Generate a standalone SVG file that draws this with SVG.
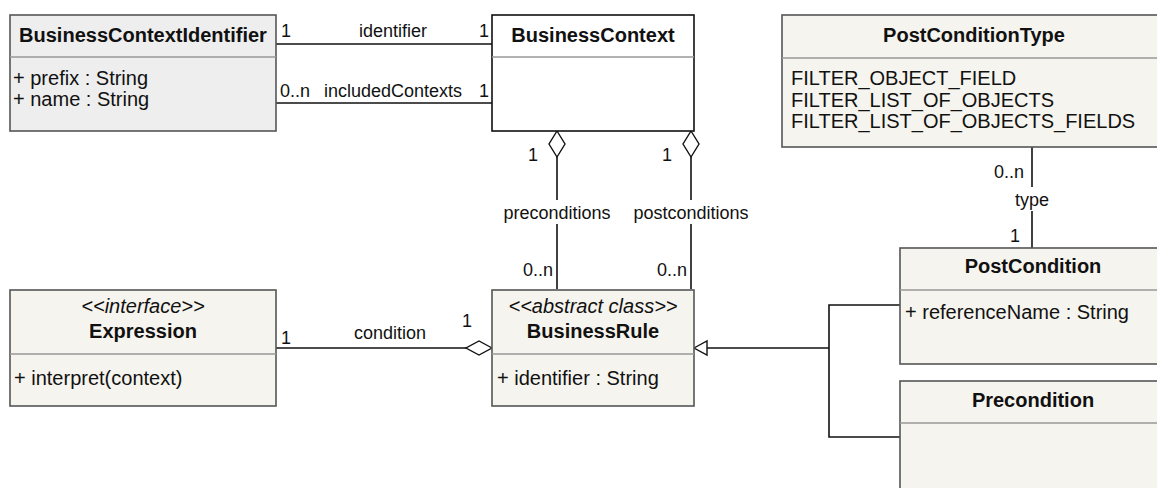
<svg xmlns="http://www.w3.org/2000/svg" width="1157" height="488" viewBox="0 0 1157 488">
<style>
text{font-family:"Liberation Sans",Arial,sans-serif;font-size:20px;fill:#111}
.l{font-size:18px}
.b{font-weight:bold}
.i{font-style:italic}
.m{text-anchor:middle}
.e{text-anchor:end}
.box{fill:#f6f4ee;stroke:#555;stroke-width:1.6}
.gray{fill:#eeeeee;stroke:#555;stroke-width:1.6}
.white{fill:#ffffff;stroke:#111;stroke-width:1.6}
.sep{stroke:#999;stroke-width:1.6;fill:none}
.ln{stroke:#111;stroke-width:1.6;fill:none}
.hol{stroke:#111;stroke-width:1.4;fill:#fff}
</style>
<g id="connectors">
<line class="ln" x1="276" y1="44" x2="492" y2="44"/>
<text class="l" x="281" y="37">1</text><text class="l m" x="393" y="37">identifier</text><text class="l" x="479" y="37">1</text>
<line class="ln" x1="276" y1="103" x2="492" y2="103"/>
<text class="l" x="280" y="97">0..n</text><text class="l m" x="393" y="97">includedContexts</text><text class="l" x="479" y="97">1</text>
<line class="ln" x1="557" y1="157" x2="557" y2="289"/>
<polygon class="hol" points="557,131 565,144 557,157 549,144"/>
<rect x="505" y="200" width="104" height="24" fill="#fff"/>
<text class="l m" x="557" y="219">preconditions</text>
<text class="l" x="528" y="161">1</text><text class="l e" x="553" y="276">0..n</text>
<line class="ln" x1="691" y1="157" x2="691" y2="289"/>
<polygon class="hol" points="691,131 699,144 691,157 683,144"/>
<rect x="635" y="200" width="112" height="24" fill="#fff"/>
<text class="l m" x="691" y="219">postconditions</text>
<text class="l" x="662" y="161">1</text><text class="l e" x="687" y="276">0..n</text>
<line class="ln" x1="276" y1="348" x2="466" y2="348"/>
<polygon class="hol" points="492,348 479,341 466,348 479,355"/>
<text class="l" x="281" y="344">1</text><text class="l m" x="390" y="339">condition</text><text class="l" x="462" y="327">1</text>
<line class="ln" x1="1032" y1="147" x2="1032" y2="249"/>
<rect x="1012" y="187" width="40" height="24" fill="#fff"/>
<text class="l m" x="1032" y="206">type</text>
<text class="l e" x="1024" y="178">0..n</text><text class="l e" x="1020" y="242">1</text>
<polyline class="ln" points="707,348 829,348"/>
<polyline class="ln" points="900,305 829,305 829,437 900,437"/>
<polygon class="hol" points="694,348 707,341 707,355"/>
</g>
<g id="BusinessContextIdentifier">
<rect class="gray" x="10" y="15" width="266" height="116"/>
<line class="sep" x1="10" y1="57" x2="276" y2="57"/>
<text class="b m" x="143" y="42">BusinessContextIdentifier</text>
<text x="13" y="85">+ prefix : String</text>
<text x="13" y="106">+ name : String</text>
</g>
<g id="BusinessContext">
<rect class="white" x="492" y="15" width="202" height="116"/>
<line class="sep" x1="492" y1="57" x2="694" y2="57"/>
<text class="b m" x="593" y="42">BusinessContext</text>
</g>
<g id="PostConditionType">
<rect class="box" x="782" y="15" width="390" height="132"/>
<line class="sep" x1="782" y1="58" x2="1172" y2="58"/>
<text class="b m" x="974" y="42">PostConditionType</text>
<text x="791" y="85">FILTER_OBJECT_FIELD</text>
<text x="791" y="106.5">FILTER_LIST_OF_OBJECTS</text>
<text x="791" y="128">FILTER_LIST_OF_OBJECTS_FIELDS</text>
</g>
<g id="Expression">
<rect class="box" x="10" y="290" width="266" height="116"/>
<line class="sep" x1="10" y1="354" x2="276" y2="354"/>
<text class="i m" x="143" y="313">&lt;&lt;interface&gt;&gt;</text>
<text class="b m" x="143" y="338">Expression</text>
<text x="14" y="385">+ interpret(context)</text>
</g>
<g id="BusinessRule">
<rect class="box" x="492" y="290" width="202" height="116"/>
<line class="sep" x1="492" y1="354" x2="694" y2="354"/>
<text class="i m" x="593" y="313">&lt;&lt;abstract class&gt;&gt;</text>
<text class="b m" x="593" y="338">BusinessRule</text>
<text x="497" y="385">+ identifier : String</text>
</g>
<g id="PostCondition">
<rect class="box" x="900" y="248" width="272" height="116"/>
<line class="sep" x1="900" y1="290" x2="1172" y2="290"/>
<text class="b m" x="1033" y="273">PostCondition</text>
<text x="905" y="319">+ referenceName : String</text>
</g>
<g id="Precondition">
<rect class="box" x="900" y="381" width="272" height="120"/>
<line class="sep" x1="900" y1="423" x2="1172" y2="423"/>
<text class="b m" x="1033" y="407">Precondition</text>
</g>
</svg>
